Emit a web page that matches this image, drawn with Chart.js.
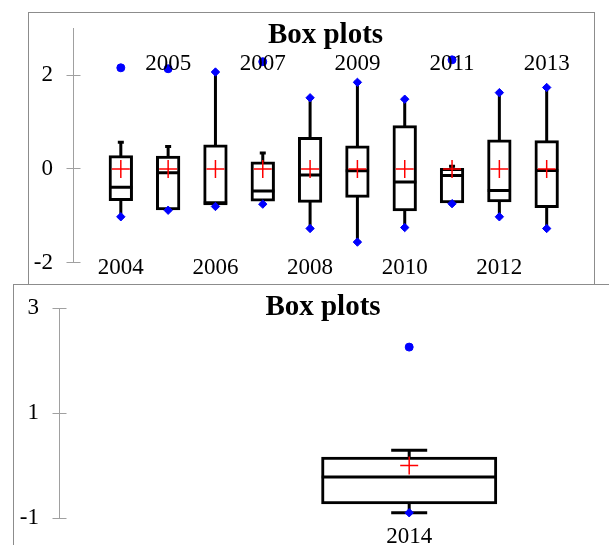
<!DOCTYPE html>
<html>
<head>
<meta charset="utf-8">
<script src="https://cdn.jsdelivr.net/npm/chart.js@4.4.1/dist/chart.umd.min.js"></script>
<style>
  html, body { margin: 0; padding: 0; width: 609px; height: 545px; overflow: hidden; background: #fff; }
  .frame { position: absolute; box-sizing: border-box; border: 1px solid #8c8c8c; background: #fff; }
  #frame1 { left: 28px; top: 12px; width: 567px; height: 273px; }
  #frame2 { left: 13px; top: 284px; width: 700px; height: 400px; }
  canvas { position: absolute; }
  #chart1 { left: 30px; top: 14px; }
  #chart2 { left: 13px; top: 285px; }
</style>
</head>
<body>
<div class="frame" id="frame1"></div>
<canvas id="chart1" width="591" height="270"></canvas>
<div class="frame" id="frame2"></div>
<canvas id="chart2" width="620" height="280"></canvas>
<script>
// ---- 2004-2013 (standardised values) ----
const topYears    = ['2004', '2005', '2006', '2007', '2008', '2009', '2010', '2011', '2012', '2013'];
const topQ1       = [-0.65, -0.85, -0.74, -0.66, -0.69, -0.58, -0.87, -0.70, -0.68, -0.80];
const topMedian   = [-0.39, -0.08, -0.72, -0.47, -0.13, -0.04, -0.28, -0.14, -0.46, -0.03];
const topQ3       = [0.26, 0.25, 0.49, 0.13, 0.65, 0.47, 0.90, 0.00, 0.60, 0.58];
const topLow      = [-1.02, -0.88, -0.80, -0.75, -1.27, -1.56, -1.25, -0.74, -1.02, -1.27];
const topHigh     = [0.57, 0.48, 2.07, 0.34, 1.52, 1.85, 1.49, 0.06, 1.63, 1.74];
const topMean     = [0, 0, 0, 0, 0, 0, 0, 0, 0, 0];
const topMin      = [-1.02, -0.88, -0.80, -0.75, -1.27, -1.56, -1.25, -0.74, -1.02, -1.27];
const topMax      = [null, null, 2.07, null, 1.52, 1.85, 1.49, null, 1.63, 1.74];
const topOutliers = [2.16, 2.14, null, 2.29, null, null, null, 2.33, null, null];
const topTicks    = [-2, 0, 2];

// ---- 2014 ----
const bottomYears    = ['2014'];
const bottomQ1       = [-0.71];
const bottomMedian   = [-0.22];
const bottomQ3       = [0.14];
const bottomLow      = [-0.90];
const bottomHigh     = [0.29];
const bottomMean     = [0];
const bottomMin      = [-0.90];
const bottomMax      = [null];
const bottomOutliers = [2.26];
const bottomTicks    = [-1, 1, 3];

const SERIF = '"Liberation Serif", "Times New Roman", serif';
const AXIS_GREY = '#a0a0a0';

// category i sits at x = i + 1 on the linear x scale
function seriesPoints(values) {
  const pts = [];
  values.forEach((v, i) => { if (v !== null) pts.push({ x: i + 1, y: v }); });
  return pts;
}
function rangePoints(lo, hi) {
  return lo.map((v, i) => ({ x: i + 1, y: [v, hi[i]] }));
}

// tick marks that cross the axis line (the inner half)
const crossTicks = {
  id: 'crossTicks',
  afterDraw(chart) {
    const sc = chart.scales.y;
    const ctx = chart.ctx;
    ctx.save();
    ctx.strokeStyle = AXIS_GREY;
    ctx.lineWidth = 1;
    sc.ticks.forEach(t => {
      const y = Math.round(sc.getPixelForValue(t.value) - 0.5) + 0.5;
      ctx.beginPath();
      ctx.moveTo(sc.right, y);
      ctx.lineTo(sc.right + 7, y);
      ctx.stroke();
    });
    ctx.restore();
  }
};

// year names under (and, alternately, above) each box
function yearLabels(labels, alternate, upperOffset, lowerOffset) {
  return {
    id: 'yearLabels',
    afterDatasetsDraw(chart) {
      const { ctx, chartArea, scales: { x } } = chart;
      ctx.save();
      ctx.font = '23px ' + SERIF;
      ctx.fillStyle = '#000';
      ctx.textAlign = 'center';
      ctx.textBaseline = 'middle';
      labels.forEach((t, i) => {
        const up = alternate && i % 2 === 1;
        const py = up ? chartArea.top + upperOffset : chartArea.bottom + lowerOffset;
        ctx.fillText(t, x.getPixelForValue(i + 1), py);
      });
      ctx.restore();
    }
  };
}

function boxPlotChart(canvas, s) {
  const scales = {
    x: { type: 'linear', min: 0, max: s.xMax, display: false, offset: false },
    y: {
      type: 'linear', min: s.yMin, max: s.yMax, bounds: 'data',
      afterBuildTicks: sc => { sc.ticks = s.ticks.map(v => ({ value: v })); },
      afterFit: sc => { sc.width = s.axisWidth; sc.paddingTop = 0; sc.paddingBottom = 0; },
      border: { display: true, color: AXIS_GREY, width: 1 },
      grid: { drawOnChartArea: false, drawTicks: true, tickLength: 7, color: AXIS_GREY, lineWidth: 1 },
      ticks: { font: { family: SERIF, size: 23 }, color: '#000', padding: 13.5 }
    }
  };
  if (s.rightGap) {
    // empty strip to the right of the plot; the title is centred over plot + strip
    scales.gap = {
      type: 'linear', position: 'right', display: true,
      grid: { display: false }, border: { display: false }, ticks: { display: false },
      afterFit: sc => { sc.width = s.rightGap; sc.paddingTop = 0; sc.paddingBottom = 0; }
    };
  }
  return new Chart(canvas, {
    type: 'scatter',
    data: {
      datasets: [
        { // whiskers
          type: 'bar', data: rangePoints(s.low, s.high), barThickness: 3,
          backgroundColor: '#000', borderWidth: 0, inflateAmount: 0, grouped: false, order: 6
        },
        { // boxes (Q1 - Q3)
          type: 'bar', data: rangePoints(s.q1, s.q3), barThickness: s.boxWidth - 3,
          backgroundColor: '#fff', borderColor: '#000', borderWidth: 3, borderSkipped: false,
          inflateAmount: 1.5, grouped: false, order: 5
        },
        { // medians
          data: seriesPoints(s.median), pointStyle: 'line', pointRadius: s.boxWidth / 2 - 0.5,
          pointBorderWidth: 3, pointBorderColor: '#000', order: 4
        },
        { // whisker caps
          data: seriesPoints(s.low).concat(seriesPoints(s.high)), pointStyle: 'line',
          pointRadius: s.capRadius, pointBorderWidth: 3, pointBorderColor: '#000', order: 3
        },
        { // means
          data: seriesPoints(s.mean), pointStyle: 'cross', pointRadius: 9,
          pointBorderWidth: 1.5, pointBorderColor: '#ff0000', order: 2
        },
        { // minimum / maximum
          data: seriesPoints(s.min).concat(seriesPoints(s.max)), pointStyle: 'rectRot',
          pointRadius: 4.2, pointBorderWidth: 1, pointBackgroundColor: '#0000ff',
          pointBorderColor: '#0000ff', order: 1
        },
        { // outliers
          data: seriesPoints(s.outliers), pointStyle: 'circle', pointRadius: 4,
          pointBorderWidth: 1, pointBackgroundColor: '#0000ff', pointBorderColor: '#0000ff', order: 0
        }
      ]
    },
    options: {
      responsive: false,
      animation: false,
      events: [],
      layout: { autoPadding: false, padding: s.padding },
      plugins: {
        legend: { display: false },
        tooltip: { enabled: false },
        title: {
          display: true, text: 'Box plots', color: '#000',
          font: { family: SERIF, size: 29, weight: 'bold', lineHeight: 1.2 },
          padding: s.titlePadding
        }
      },
      scales: scales
    },
    plugins: [crossTicks, yearLabels(s.labels, s.alternate, s.upperOffset, s.lowerOffset)]
  });
}

boxPlotChart(document.getElementById('chart1'), {
  labels: topYears, q1: topQ1, median: topMedian, q3: topQ3, low: topLow, high: topHigh,
  mean: topMean, min: topMin, max: topMax, outliers: topOutliers, ticks: topTicks,
  yMin: -2, yMax: 3, xMax: 11,
  boxWidth: 24.3, capRadius: 3,
  padding: { left: 0, right: 0, top: 0, bottom: 21.3 },
  titlePadding: { top: 3.75, bottom: -24.1 },
  axisWidth: 43.5, rightGap: 27,
  alternate: true, upperOffset: 36, lowerOffset: 5.5
});

boxPlotChart(document.getElementById('chart2'), {
  labels: bottomYears, q1: bottomQ1, median: bottomMedian, q3: bottomQ3, low: bottomLow, high: bottomHigh,
  mean: bottomMean, min: bottomMin, max: bottomMax, outliers: bottomOutliers, ticks: bottomTicks,
  yMin: -1, yMax: 3, xMax: 1.64,
  boxWidth: 176, capRadius: 18,
  padding: { left: 0, right: 0, top: 0, bottom: 47 },
  titlePadding: { top: 4.75, bottom: -16.25 },
  axisWidth: 46.5, rightGap: 0,
  alternate: false, upperOffset: 0, lowerOffset: 18.5
});
</script>
</body>
</html>
